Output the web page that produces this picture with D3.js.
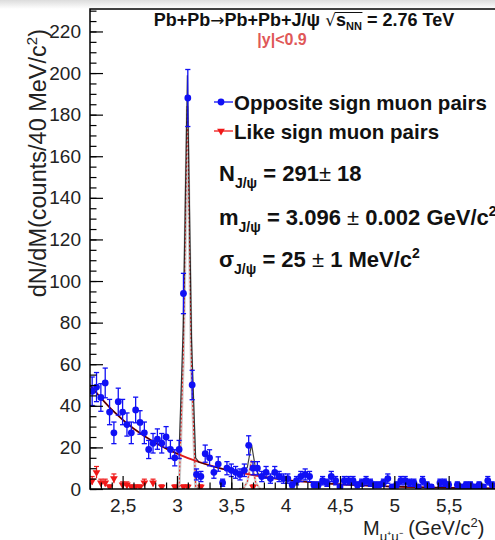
<!DOCTYPE html>
<html><head><meta charset="utf-8">
<script src="https://cdn.jsdelivr.net/npm/d3@7"></script>
<style>
body{margin:0;background:#fff}
svg{display:block}
text{font-family:"Liberation Sans",Arial,Helvetica,sans-serif}
</style>
</head><body>
<svg id="c" width="495" height="540"></svg>
<script>
// ---------- data ----------
const massBins = [
 2.22,2.26,2.30,2.34,2.38,2.42,2.46,2.50,2.54,2.58,
 2.62,2.66,2.70,2.74,2.78,2.82,2.86,2.90,2.94,2.98,
 3.02,3.06,3.10,3.14,3.18,3.22,3.26,3.30,3.34,3.38,
 3.42,3.46,3.50,3.54,3.58,3.62,3.66,3.70,3.74,3.78,
 3.82,3.86,3.90,3.94,3.98,4.02,4.06,4.10,4.14,4.18,
 4.22,4.26,4.30,4.34,4.38,4.42,4.46,4.50,4.54,4.58,
 4.62,4.66,4.70,4.74,4.78,4.82,4.86,4.90,4.94,4.98,
 5.02,5.06,5.10,5.14,5.18,5.22,5.26,5.30,5.34,5.38,
 5.42,5.46,5.50,5.54,5.58,5.62,5.66,5.70,5.74,5.78,
 5.82,5.86,5.90,5.94,5.98];
const oppositeSign = [
 47,49,44,51,37,27,42,37,31,27,
 38,32,27,19,22,24,22,25,19,15,
 19,94,188,50,7,6,17,15,8,12,
 3,10,9,8,7,9,21,10,10,6,
 8,5,8,6,5,5,2,4,6,7,
 6,2,2,4,3,6,4,1,4,4,
 4,2,3,4,3,2,2,3,5,1,
 2,4,4,3,3,1,4,2,1,null,
 3,3,2,null,2,1,2,2,1,2,
 1,4,2,null,null];
const likeSignMass   = [2.22,2.26,2.30,2.34,2.38,2.42,2.50,2.54,2.58,2.62,2.66,2.70,2.78,2.86,2.98,3.06,3.10,3.22,3.70];
const likeSignCounts = [4,8,3,3,1,5,2,2,1,1,1,3,3,1,1,1,1,1,1];

// fit curves
const fitMass  = [2.2,2.3,2.4,2.5,2.6,2.7,2.8,2.9,3.0,3.02,3.058,3.096,3.134,3.172,3.2,3.3,3.4,3.5,3.6,3.648,3.686,3.724,3.762,3.8,3.9,4.0,4.1,4.2,4.3,4.4,4.5,4.6,4.7,4.8,4.9,5.0,5.2,5.4,5.6,5.8,6.0];
const fitTotal = [50.0,43.7,38.2,33.3,29.1,25.5,22.2,19.4,17.0,18.0,78,199,72,15,13.0,11.3,9.9,8.6,7.6,10.5,21.5,9.6,6.1,5.8,5.0,4.4,3.85,3.4,2.9,2.6,2.24,2.0,1.7,1.5,1.3,1.1,0.87,0.66,0.51,0.39,0.30];
const bgMass = [2.2,2.4,2.6,2.8,3.0,3.2,3.4,3.6,3.8,4.0,4.2,4.4,4.6,4.8,5.0,5.2,5.4,5.6,5.8,6.0];
const bgFit  = [50.0,38.2,29.1,22.2,17.0,13.0,9.9,7.6,5.8,4.4,3.4,2.6,2.0,1.5,1.1,0.87,0.66,0.51,0.39,0.30];
const jpsiMass = [2.982,3.02,3.058,3.096,3.134,3.172,3.21];
const jpsiFit  = [0,1,62,184,57,1,0];
const psi2sMass = [3.572,3.61,3.648,3.686,3.724,3.762,3.80];
const psi2sFit  = [0,0.1,3.5,14,3.2,0.1,0];

const xTickValues = [2.5,3,3.5,4,4.5,5,5.5];
const xTickLabels = ["2,5","3","3,5","4","4,5","5","5,5"];
const yTickValues = [0,20,40,60,80,100,120,140,160,180,200,220];
const yTickLabels = ["0","20","40","60","80","100","120","140","160","180","200","220"];

// ---------- drawing ----------
const svg = d3.select("#c");
const pLeft = 90, pRight = 503, pTop = 9, pBottom = 489;
const x = d3.scaleLinear().domain([2.2, 6.0]).range([pLeft, pRight]);
const y = d3.scaleLinear().domain([0, 230.8]).range([pBottom, pTop]);

const BLUE = "#1010f5", RED = "#f01818";

const defs = svg.append("defs");
const g0 = defs.append("linearGradient").attr("id","topg").attr("x1",0).attr("y1",0).attr("x2",0).attr("y2",1);
g0.append("stop").attr("offset","0%").attr("stop-color","#dcdcdc");
g0.append("stop").attr("offset","100%").attr("stop-color","#ffffff");
svg.append("rect").attr("x",0).attr("y",0).attr("width",495).attr("height",9).attr("fill","url(#topg)");

defs.append("clipPath").attr("id","plot").append("rect")
  .attr("x",pLeft).attr("y",pTop).attr("width",pRight-pLeft).attr("height",pBottom-pTop);

const plot = svg.append("g").attr("clip-path","url(#plot)");

const lineOf = (xs, ys, curve) => d3.line().x((d,i)=>x(xs[i])).y((d,i)=>y(ys[i])).curve(curve||d3.curveLinear)(xs);

// J/psi component: grey band + red dotted
plot.append("path").attr("d", lineOf(jpsiMass, jpsiFit)).attr("fill","none")
  .attr("stroke","#b5b5b5").attr("stroke-width",3).attr("opacity",0.7);
plot.append("path").attr("d", lineOf(jpsiMass, jpsiFit)).attr("fill","none")
  .attr("stroke",RED).attr("stroke-width",1).attr("stroke-dasharray","2,2");
plot.append("path").attr("d", lineOf(psi2sMass, psi2sFit)).attr("fill","none")
  .attr("stroke","#b5b5b5").attr("stroke-width",2.5).attr("opacity",0.6);
plot.append("path").attr("d", lineOf(psi2sMass, psi2sFit)).attr("fill","none")
  .attr("stroke",RED).attr("stroke-width",1).attr("stroke-dasharray","2,2");

// background (red) and total fit (black)
plot.append("path").attr("d", lineOf(bgMass, bgFit, d3.curveMonotoneX)).attr("fill","none")
  .attr("stroke","#e01a1a").attr("stroke-width",1.8);
plot.append("path").attr("d", lineOf(fitMass, fitTotal)).attr("fill","none")
  .attr("stroke","#000").attr("stroke-width",1.2).attr("opacity",0.75);

// like-sign points
const ls = likeSignMass.map((m,i)=>({m, v: likeSignCounts[i]}));
const lsg = plot.append("g");
ls.forEach(d=>{
  const e = Math.sqrt(d.v);
  lsg.append("line").attr("x1",x(d.m)).attr("x2",x(d.m)).attr("y1",y(d.v-e)).attr("y2",y(d.v+e))
    .attr("stroke",RED).attr("stroke-width",1.2);
  lsg.append("line").attr("x1",x(d.m)-2.5).attr("x2",x(d.m)+2.5).attr("y1",y(d.v+e)).attr("y2",y(d.v+e))
    .attr("stroke",RED).attr("stroke-width",1.2);
  lsg.append("path").attr("d", d3.symbol().type(d3.symbolTriangle).size(26)())
    .attr("transform",`translate(${x(d.m)},${y(d.v)}) rotate(180)`).attr("fill",RED);
});

// opposite-sign points
const os = massBins.map((m,i)=>({m, v: oppositeSign[i]})).filter(d=>d.v!==null);
const osg = plot.append("g");
os.forEach(d=>{
  const e = Math.sqrt(d.v);
  osg.append("line").attr("x1",x(d.m)).attr("x2",x(d.m)).attr("y1",y(Math.max(0,d.v-e))).attr("y2",y(d.v+e))
    .attr("stroke",BLUE).attr("stroke-width",1.3);
  [d.v+e, d.v-e].forEach(v=>{
    if (v>0) osg.append("line").attr("x1",x(d.m)-2.6).attr("x2",x(d.m)+2.6).attr("y1",y(v)).attr("y2",y(v))
      .attr("stroke",BLUE).attr("stroke-width",1.3);
  });
  osg.append("circle").attr("cx",x(d.m)).attr("cy",y(d.v)).attr("r",3.4).attr("fill",BLUE);
});

// ---------- axes ----------
const yMinor = d3.range(0, 231, 5);
const xMinor = d3.range(2.2, 6.001, 0.1);
svg.append("g").attr("transform",`translate(${pLeft},0)`)
  .call(d3.axisLeft(y).tickValues(yMinor).tickSize(-6.5).tickFormat(""))
  .call(g=>g.select(".domain").remove());
svg.append("g").attr("transform",`translate(0,${pBottom})`)
  .call(d3.axisBottom(x).tickValues(xMinor).tickSize(-6.5).tickFormat(""))
  .call(g=>g.select(".domain").remove());
const ya = svg.append("g").attr("transform",`translate(${pLeft},0)`)
  .call(d3.axisLeft(y).tickValues(yTickValues).tickSize(-13).tickPadding(9)
    .tickFormat((d,i)=>yTickLabels[i]))
  .call(g=>g.select(".domain").remove());
ya.selectAll("text").attr("font-size",19).attr("fill","#222").attr("font-family",'"Liberation Sans",Arial,sans-serif');
const xa = svg.append("g").attr("transform",`translate(0,${pBottom})`)
  .call(d3.axisBottom(x).tickValues(xTickValues).tickSize(-13).tickPadding(9.5)
    .tickFormat((d,i)=>xTickLabels[i]))
  .call(g=>g.select(".domain").remove());
xa.selectAll("text").attr("font-size",19).attr("fill","#222").attr("font-family",'"Liberation Sans",Arial,sans-serif');
svg.selectAll(".tick line").attr("stroke","#000").attr("stroke-width",1.2);

// frame
svg.append("rect").attr("x",pLeft).attr("y",pTop).attr("width",pRight-pLeft).attr("height",pBottom-pTop)
  .attr("fill","none").attr("stroke","#000").attr("stroke-width",1.5);

// ---------- texts ----------
const t = svg.append("text").attr("x",304).attr("y",26).attr("text-anchor","middle")
  .attr("font-size",18).attr("font-weight","bold").attr("fill","#111");
t.append("tspan").text("Pb+Pb");
t.append("tspan").attr("font-weight","normal").attr("font-family","DejaVu Sans").attr("font-size",17).text("\u2192");
t.append("tspan").text("Pb+Pb+J/\u03C8 ");
t.append("tspan").attr("font-weight","normal").attr("font-family","DejaVu Sans").attr("font-size",17).text("\u221A");
t.append("tspan").text("s");
t.append("tspan").attr("font-size",11).attr("dy",4).text("NN");
t.append("tspan").attr("dy",-4).text(" = 2.76 TeV");
// overline of the square root, measured from the rendered glyphs
(function(){
  const node = t.node();
  const full = node.textContent;
  const iRoot = full.indexOf("\u221A");
  const iEnd = full.indexOf("NN") + 1;
  const a = node.getExtentOfChar(iRoot), b = node.getExtentOfChar(iEnd);
  svg.append("line").attr("x1", a.x + a.width - 1).attr("x2", b.x + b.width + 0.5)
    .attr("y1", a.y + 2.5).attr("y2", a.y + 2.5).attr("stroke","#111").attr("stroke-width",1);
})();

svg.append("text").attr("x",282).attr("y",45).attr("text-anchor","middle")
  .attr("font-size",16).attr("font-weight","bold").attr("fill","#e05858").text("|y|<0.9");

// legend
svg.append("line").attr("x1",214).attr("x2",233).attr("y1",102).attr("y2",102).attr("stroke",BLUE).attr("stroke-width",1.3);
svg.append("circle").attr("cx",221).attr("cy",102).attr("r",3.4).attr("fill",BLUE);
svg.append("line").attr("x1",214).attr("x2",233).attr("y1",131).attr("y2",131).attr("stroke",RED).attr("stroke-width",1.3);
svg.append("path").attr("d", d3.symbol().type(d3.symbolTriangle).size(26)())
  .attr("transform","translate(221,131) rotate(180)").attr("fill",RED);
svg.append("text").attr("x",234).attr("y",110).attr("font-size",20.5).attr("font-weight","bold").attr("fill","#111")
  .text("Opposite sign muon pairs");
svg.append("text").attr("x",234).attr("y",139).attr("font-size",20.5).attr("font-weight","bold").attr("fill","#111")
  .text("Like sign muon pairs");

function formula(yb, sym, rest, sup){
  const tx = svg.append("text").attr("x",219).attr("y",yb).attr("font-size",22).attr("font-weight","bold").attr("fill","#111");
  tx.append("tspan").text(sym);
  tx.append("tspan").attr("font-size",14).attr("dy",7).text("J/\u03C8");
  rest.forEach((r,i)=>{
    const s = tx.append("tspan").text(r.t);
    if (i===0) s.attr("dy",-7);
    if (r.n) s.attr("font-weight","normal");
  });
  if (sup) tx.append("tspan").attr("font-size",14).attr("dy",-9).text(sup);
}
formula(181, "N", [{t:" = 291"},{t:"\u00B1",n:1},{t:" 18"}]);
formula(225, "m", [{t:" = 3.096 "},{t:"\u00B1",n:1},{t:" 0.002 GeV/c"}], "2");
formula(267, "\u03C3", [{t:" = 25 "},{t:"\u00B1",n:1},{t:" 1 MeV/c"}], "2");

// axis titles
const yt = svg.append("text").attr("transform","translate(46,29) rotate(-90)").attr("text-anchor","end")
  .attr("font-size",23.5).attr("fill","#222");
yt.append("tspan").text("dN/dM(counts/40 MeV/c");
yt.append("tspan").attr("font-size",15).attr("dy",-9).text("2");
yt.append("tspan").attr("dy",9).text(")");

const xt = svg.append("text").attr("x",363).attr("y",535).attr("font-size",20).attr("fill","#222");
xt.append("tspan").text("M");
xt.append("tspan").attr("font-size",13).attr("dy",6).text("\u03BC\u207A\u03BC\u207B");
xt.append("tspan").attr("dy",-6).text(" (GeV/c");
xt.append("tspan").attr("font-size",13).attr("dy",-8).text("2");
xt.append("tspan").attr("dy",8).text(")");
</script>
</body></html>
